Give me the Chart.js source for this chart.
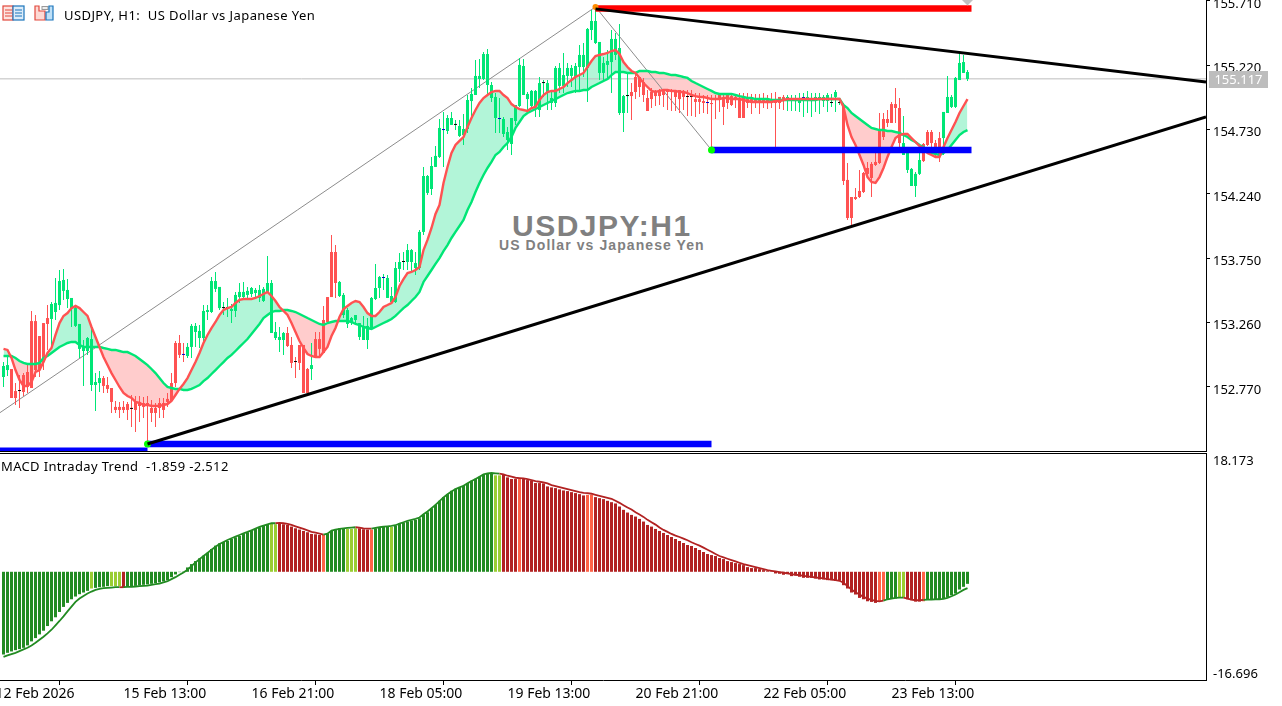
<!DOCTYPE html>
<html><head><meta charset="utf-8">
<script src="https://cdn.jsdelivr.net/npm/chart.js@4"></script>
<style>
html,body{margin:0;padding:0;background:#fff;width:1282px;height:706px;overflow:hidden;font-family:"Noto Sans",sans-serif}
.a{position:absolute;white-space:pre;color:#000}
canvas{position:absolute;left:0}
</style></head><body>
<div class="a" id="wm1" style="left:512px;top:209px;font:bold 30px 'Liberation Sans';letter-spacing:1.5px;color:#808080">USDJPY:H1</div>
<div class="a" id="wm2" style="left:499px;top:237px;font:bold 14px 'Liberation Sans';letter-spacing:1.08px;color:#808080">US Dollar vs Japanese Yen</div>
<canvas id="price" width="1282" height="451" style="top:0"></canvas>
<canvas id="macd" width="1282" height="252" style="top:454px"></canvas>
<div class="a" style="left:0;top:451px;width:1207px;height:1px;background:#000"></div>
<div class="a" style="left:0;top:453px;width:1207px;height:1px;background:#000"></div>
<svg class="a" style="left:2px;top:5px" width="56" height="16" viewBox="0 0 56 16">
<rect x="1" y="1" width="10" height="14" fill="#fde3df" stroke="#e2483d" stroke-width="1.2"/><rect x="11" y="1" width="11" height="14" fill="#dcecf9" stroke="#1b75bb" stroke-width="1.2"/>
<path d="M3 5h7M3 8h7M3 11h7" stroke="#e2483d"/><path d="M13 5h7M13 8h7M13 11h7" stroke="#1b75bb"/>
<path d="M33 1h4v5h6v9h-10z" fill="#fdd9d4" stroke="#e2483d" stroke-width="1.2"/><rect x="40" y="1.5" width="6" height="3" fill="#eee" stroke="#999"/><path d="M44 15V7h3V1h4v14z" fill="#bfe0f7" stroke="#1b75bb" stroke-width="1.2"/>
</svg>
<div class="a" id="title" style="left:64px;top:6px;font-size:13px;line-height:18px;letter-spacing:0.42px;font-family:'Noto Sans'">USDJPY, H1:  US Dollar vs Japanese Yen</div>
<div class="a" id="sub" style="left:1px;top:457px;font-size:13px;line-height:18px;letter-spacing:0.35px;font-family:'Noto Sans'">MACD Intraday Trend  -1.859 -2.512</div>
<div class="a" id="last" style="left:1209px;top:71px;width:59px;height:17px;background:#bdbdbd;color:#fff;font-size:13px;line-height:17px;text-align:center;font-family:'Noto Sans'">155.117</div>
<script>
const bodyTop=[152.930,152.937,152.907,152.739,152.739,152.861,152.884,153.272,153.272,153.158,153.257,153.295,153.402,153.410,153.577,153.585,153.509,153.448,153.371,153.250,153.075,153.143,153.135,152.808,152.838,152.838,152.785,152.762,152.618,152.618,152.618,152.640,152.603,152.656,152.656,152.648,152.648,152.610,152.610,152.648,152.648,152.679,152.800,153.105,153.105,153.014,153.075,153.235,153.235,153.197,153.349,153.356,153.577,153.577,153.532,153.371,153.371,153.364,153.471,153.494,
153.494,153.502,153.524,153.509,153.509,153.517,153.562,153.562,153.189,153.151,153.181,153.181,153.090,152.960,153.090,153.090,152.907,152.937,153.135,153.135,153.280,153.455,153.798,153.798,153.570,153.471,153.356,153.295,153.318,153.257,153.227,153.235,153.448,153.524,153.608,153.600,153.600,153.463,153.676,153.722,153.722,153.813,153.813,153.714,153.951,154.377,154.377,154.453,154.530,154.743,154.727,154.819,154.819,154.766,154.758,154.735,154.956,155.002,155.139,155.139,
155.306,155.306,155.070,154.979,154.811,154.811,154.712,154.819,154.918,155.223,155.215,155.002,155.025,155.025,155.085,155.085,155.085,154.971,155.200,155.200,155.146,155.200,155.200,155.215,155.299,155.299,155.497,155.558,155.558,155.398,155.238,155.253,155.421,155.421,155.352,154.986,154.986,155.017,155.131,155.131,155.093,154.971,155.017,155.025,155.032,155.032,155.032,155.032,155.017,155.032,155.025,154.979,154.979,154.963,154.963,154.948,154.933,154.933,154.956,154.994,
154.963,154.994,154.986,154.979,154.971,154.971,154.963,154.963,154.963,154.963,154.963,154.956,154.956,154.956,154.979,154.979,154.979,154.971,154.948,154.963,154.971,154.979,154.948,154.979,154.979,154.979,154.994,154.933,155.017,154.933,154.918,154.347,154.217,154.217,154.263,154.400,154.438,154.469,154.484,154.720,154.811,154.811,154.925,154.925,154.895,154.628,154.552,154.431,154.393,154.499,154.621,154.712,154.712,154.628,154.666,154.865,154.979,154.979,155.124,155.238,155.245,155.169];
const bodyBottom=[152.846,152.899,152.686,152.686,152.739,152.732,152.770,152.762,152.899,152.899,152.960,153.250,153.288,153.341,153.394,153.502,153.440,153.371,153.235,153.060,153.044,153.044,152.785,152.785,152.800,152.778,152.755,152.656,152.595,152.595,152.595,152.595,152.603,152.595,152.625,152.618,152.640,152.572,152.572,152.610,152.595,152.656,152.663,152.800,153.014,153.014,153.006,153.075,153.189,153.143,153.143,153.341,153.341,153.517,153.371,153.371,153.371,153.349,153.349,153.455,
153.455,153.471,153.478,153.486,153.448,153.425,153.494,153.181,153.143,153.128,153.128,153.082,152.953,152.960,152.953,152.724,152.724,152.907,152.991,153.060,153.029,153.265,153.455,153.562,153.463,153.318,153.250,153.257,153.280,153.151,153.128,153.128,153.219,153.440,153.524,153.600,153.448,153.417,153.417,153.669,153.722,153.722,153.722,153.676,153.676,153.951,154.248,154.278,154.446,154.522,154.727,154.720,154.766,154.766,154.682,154.689,154.735,154.948,154.994,155.116,
155.116,155.070,154.971,154.819,154.811,154.697,154.651,154.621,154.796,154.910,154.994,154.963,154.910,154.910,154.880,155.085,155.009,154.933,154.933,155.063,155.063,155.139,155.139,155.131,155.207,155.207,155.200,155.489,155.390,155.162,155.162,155.223,155.245,155.299,154.857,154.857,154.986,154.986,155.017,155.055,154.994,154.872,154.963,154.986,154.986,154.994,155.017,155.017,154.979,154.963,154.979,154.979,154.979,154.941,154.941,154.933,154.933,154.925,154.956,154.956,
154.903,154.933,154.918,154.971,154.819,154.819,154.933,154.933,154.933,154.933,154.933,154.933,154.933,154.933,154.933,154.956,154.956,154.956,154.948,154.933,154.971,154.956,154.948,154.948,154.956,154.948,154.948,154.933,154.979,154.933,154.339,154.057,154.057,154.202,154.217,154.255,154.393,154.362,154.461,154.476,154.674,154.781,154.781,154.895,154.628,154.537,154.423,154.301,154.301,154.393,154.491,154.613,154.628,154.537,154.537,154.666,154.857,154.903,154.903,155.108,155.162,155.116];
const wickHigh=[152.961,153.006,152.907,152.800,152.861,152.876,152.953,153.349,153.318,153.158,153.257,153.394,153.417,153.600,153.661,153.669,153.593,153.448,153.394,153.250,153.128,153.151,153.212,152.876,152.892,152.853,152.846,152.762,152.663,152.656,152.663,152.656,152.709,152.701,152.701,152.694,152.701,152.671,152.648,152.686,152.686,152.724,152.876,153.120,153.166,153.105,153.105,153.250,153.257,153.242,153.394,153.394,153.608,153.646,153.532,153.417,153.448,153.402,153.494,153.562,
153.570,153.532,153.532,153.524,153.547,153.532,153.768,153.585,153.265,153.227,153.189,153.227,153.151,152.998,153.090,153.090,152.915,153.105,153.189,153.189,153.387,153.455,153.928,153.851,153.577,153.486,153.371,153.303,153.318,153.257,153.311,153.295,153.455,153.707,153.615,153.631,153.623,153.532,153.722,153.791,153.798,153.859,153.821,153.798,153.966,154.446,154.385,154.522,154.606,154.811,154.865,154.842,154.865,154.804,154.804,154.850,154.994,155.048,155.261,155.269,
155.322,155.345,155.093,155.009,154.971,154.827,154.750,154.819,154.918,155.276,155.269,155.017,155.032,155.032,155.131,155.108,155.108,155.017,155.215,155.238,155.314,155.238,155.223,155.238,155.375,155.390,155.505,155.641,155.665,155.398,155.284,155.337,155.489,155.467,155.535,154.994,155.162,155.085,155.169,155.131,155.124,155.032,155.048,155.032,155.040,155.040,155.040,155.040,155.032,155.032,155.032,155.032,155.032,155.009,155.009,154.994,154.994,154.994,154.994,155.009,
154.994,155.009,155.009,154.994,155.009,155.009,155.009,155.002,155.002,155.002,155.009,154.994,155.009,155.017,154.979,154.994,154.994,154.994,154.994,155.009,155.009,155.025,155.009,155.009,155.009,154.994,155.009,155.002,155.032,154.971,154.933,154.476,154.217,154.286,154.423,154.408,154.484,154.484,154.598,154.857,154.857,154.880,154.941,155.048,154.971,154.834,154.552,154.438,154.408,154.552,154.628,154.727,154.727,154.651,154.712,154.865,155.139,154.994,155.131,155.314,155.299,155.184];
const wickLow=[152.770,152.853,152.686,152.633,152.610,152.701,152.724,152.762,152.846,152.846,152.899,153.052,153.075,153.280,153.356,153.433,153.371,153.227,153.227,152.991,152.778,153.014,152.739,152.587,152.732,152.724,152.724,152.572,152.572,152.534,152.572,152.518,152.465,152.427,152.503,152.534,152.343,152.503,152.465,152.534,152.534,152.618,152.656,152.770,152.991,152.960,152.991,152.991,153.075,153.067,153.105,153.280,153.333,153.494,153.356,153.318,153.303,153.257,153.303,153.410,
153.433,153.433,153.455,153.455,153.417,153.417,153.486,153.181,153.128,153.036,153.014,153.075,152.915,152.838,152.899,152.724,152.724,152.823,152.991,152.991,153.029,153.265,153.455,153.448,153.455,153.295,153.219,153.242,153.242,153.128,153.128,153.060,153.212,153.433,153.448,153.509,153.448,153.410,153.410,153.570,153.661,153.661,153.646,153.623,153.661,153.928,154.233,154.233,154.446,154.515,154.446,154.697,154.766,154.727,154.674,154.613,154.705,154.804,154.994,155.048,
155.108,154.994,154.941,154.705,154.705,154.674,154.575,154.537,154.766,154.903,154.994,154.880,154.895,154.827,154.827,154.979,154.880,154.880,154.903,155.009,155.009,155.055,155.055,155.009,155.017,155.131,154.941,155.413,155.383,155.108,155.108,155.108,155.009,155.261,154.842,154.712,154.857,154.804,154.963,154.979,154.941,154.872,154.895,154.910,154.918,154.903,154.880,154.872,154.872,154.857,154.880,154.834,154.834,154.827,154.850,154.857,154.850,154.598,154.811,154.865,
154.766,154.887,154.910,154.895,154.819,154.819,154.895,154.850,154.895,154.850,154.895,154.887,154.895,154.598,154.887,154.880,154.872,154.872,154.872,154.865,154.827,154.857,154.827,154.865,154.850,154.903,154.865,154.903,154.865,154.918,154.309,154.042,154.004,154.194,154.210,154.248,154.385,154.217,154.453,154.469,154.651,154.750,154.781,154.781,154.598,154.537,154.400,154.301,154.217,154.385,154.484,154.605,154.575,154.515,154.484,154.537,154.857,154.895,154.895,155.108,155.162,155.101];
const candleRuns=[['G',2],['R',2],['D',1],['R',7],['G',13],['R',7],['D',1],['R',12],['B',1],['G',9],['D',2],['G',14],['R',2],['D',1],['R',3],['G',1],['R',6],['G',11],['B',1],['G',4],['D',1],['G',9],['B',1],['G',2],['D',1],['G',10],['B',1],['G',10],['D',1],['G',20],['D',1],['R',14],['D',2],['R',3],['B',1],['R',1],['D',1],['R',17],['G',2],['D',1],['G',1],['B',1],['G',1],['D',1],['G',4],['D',1],['G',1],['D',1],['R',15],['G',5],['R',5],['G',7]];
const fastMA=[153.060,153.052,152.991,152.899,152.823,152.778,152.778,152.808,152.884,152.899,152.960,153.029,153.067,153.166,153.257,153.311,153.333,153.371,153.387,153.371,153.341,153.311,153.227,153.151,153.075,152.998,152.937,152.876,152.823,152.770,152.724,152.701,152.686,152.656,152.648,152.633,152.633,152.625,152.625,152.625,152.633,152.640,152.663,152.709,152.755,152.793,152.838,152.899,152.960,153.029,153.105,153.166,153.219,153.265,153.318,153.356,153.371,153.379,153.410,153.433,
153.440,153.440,153.440,153.448,153.463,153.478,153.494,153.463,153.425,153.379,153.349,153.318,153.257,153.189,153.120,153.067,153.021,153.006,152.998,152.998,153.036,153.075,153.158,153.219,153.303,153.364,153.387,153.410,153.425,153.417,153.379,153.333,153.311,153.311,153.341,153.379,153.394,153.410,153.455,153.539,153.592,153.638,153.646,153.661,153.684,153.813,153.890,153.981,154.088,154.156,154.324,154.446,154.552,154.613,154.644,154.674,154.750,154.819,154.880,154.933,
154.971,154.994,155.017,155.025,155.025,154.994,154.971,154.925,154.903,154.887,154.880,154.872,154.895,154.903,154.956,154.994,155.017,155.025,155.025,155.040,155.055,155.085,155.108,155.131,155.146,155.162,155.207,155.253,155.291,155.299,155.306,155.314,155.329,155.337,155.306,155.245,155.207,155.177,155.162,155.124,155.085,155.055,155.025,155.017,155.025,155.032,155.032,155.025,155.025,155.017,155.017,155.009,154.994,154.986,154.979,154.979,154.971,154.963,154.963,154.963,
154.971,154.971,154.963,154.963,154.963,154.956,154.948,154.941,154.941,154.941,154.941,154.941,154.941,154.948,154.948,154.956,154.963,154.963,154.963,154.963,154.963,154.963,154.963,154.963,154.963,154.963,154.963,154.963,154.963,154.963,154.903,154.766,154.674,154.613,154.537,154.461,154.369,154.331,154.324,154.369,154.438,154.522,154.598,154.666,154.689,154.697,154.697,154.666,154.636,154.605,154.590,154.552,154.537,154.522,154.522,154.598,154.666,154.727,154.788,154.857,154.910,154.963];
const slowMA=[153.006,153.006,153.006,152.991,152.968,152.953,152.945,152.945,152.945,152.953,152.991,153.006,153.029,153.052,153.075,153.090,153.105,153.113,153.113,153.090,153.075,153.075,153.075,153.075,153.075,153.067,153.060,153.052,153.052,153.044,153.036,153.036,153.021,153.006,152.983,152.960,152.937,152.907,152.876,152.838,152.800,152.770,152.762,152.755,152.755,152.747,152.747,152.755,152.770,152.785,152.815,152.838,152.869,152.899,152.930,152.960,152.991,153.014,153.044,153.075,
153.105,153.135,153.173,153.212,153.250,153.295,153.318,153.341,153.349,153.349,153.356,153.356,153.349,153.341,153.326,153.311,153.295,153.280,153.265,153.250,153.242,153.257,153.265,153.272,153.272,153.272,153.272,153.265,153.250,153.242,153.227,153.219,153.212,153.227,153.242,153.257,153.272,153.288,153.311,153.341,153.371,153.394,153.425,153.455,153.494,153.570,153.615,153.661,153.707,153.752,153.805,153.851,153.905,153.951,153.996,154.042,154.118,154.179,154.255,154.324,
154.385,154.438,154.484,154.537,154.560,154.598,154.628,154.674,154.743,154.788,154.834,154.857,154.872,154.887,154.903,154.918,154.933,154.948,154.963,154.979,154.994,155.009,155.017,155.025,155.025,155.032,155.032,155.055,155.070,155.085,155.101,155.116,155.146,155.169,155.169,155.169,155.162,155.162,155.162,155.177,155.177,155.177,155.169,155.169,155.162,155.162,155.154,155.146,155.146,155.139,155.131,155.124,155.101,155.085,155.070,155.055,155.040,155.025,155.009,155.002,
155.002,155.002,155.002,154.994,154.986,154.979,154.971,154.971,154.963,154.963,154.963,154.963,154.956,154.956,154.956,154.956,154.956,154.956,154.956,154.956,154.956,154.956,154.956,154.956,154.963,154.963,154.963,154.963,154.963,154.963,154.918,154.895,154.857,154.834,154.811,154.788,154.766,154.743,154.735,154.727,154.727,154.720,154.720,154.712,154.705,154.689,154.674,154.651,154.636,154.613,154.598,154.568,154.552,154.545,154.537,154.552,154.575,154.613,154.651,154.689,154.712,154.727];
const macdHist=[-12.76,-12.5,-12.29,-12.09,-11.93,-11.73,-11.36,-10.74,-10.23,-9.66,-9.09,-8.37,-7.64,-7.02,-6.2,-5.42,-4.8,-4.24,-3.82,-3.46,-3.2,-2.94,-2.58,-2.48,-2.38,-2.32,-2.22,-2.22,-2.22,-2.22,-2.48,-2.27,-2.22,-2.17,-2.12,-2.01,-1.96,-1.86,-1.76,-1.65,-1.5,-1.29,-.83,-.41,-.05,.05,.67,1.19,1.65,2.07,2.48,2.94,3.51,4.03,4.39,4.6,4.75,5.06,5.32,5.53,
5.84,6.1,6.4,6.61,6.87,7.13,7.28,7.49,7.33,7.49,7.33,7.23,6.97,6.71,6.51,6.3,6.1,5.84,5.79,5.68,5.68,5.84,6.3,6.61,6.71,6.71,6.61,6.61,6.71,6.71,6.56,6.51,6.51,6.71,6.87,6.97,6.97,6.92,7.13,7.44,7.59,7.75,7.9,8.01,8.26,8.88,9.19,9.81,10.33,10.95,11.52,11.98,12.5,12.81,13.07,13.27,13.69,14.05,14.36,14.67,
15.08,15.24,15.24,14.88,14.88,14.98,14.57,14.31,14.31,14.31,14.31,14.15,14.05,13.69,13.69,13.64,13.17,13.02,12.91,12.71,12.55,12.45,12.29,12.14,11.98,11.78,11.88,11.88,11.52,11.36,11.21,10.95,10.74,10.54,10.07,9.56,9.14,8.78,8.52,8.16,7.75,7.23,6.97,6.61,6.3,5.99,5.68,5.37,5.06,4.75,4.44,4.13,3.98,3.67,3.36,3.05,2.74,2.58,2.43,2.12,
1.96,1.65,1.5,1.34,1.19,1.03,.72,.57,.57,.41,.26,.1,.05,-.26,-.31,-.46,-.36,-.67,-.57,-.77,-.93,-.93,-.93,-1.03,-1.19,-1.19,-1.29,-1.29,-1.39,-1.39,-2.07,-2.58,-3.2,-3.51,-4.03,-4.24,-4.55,-4.65,-4.8,-4.55,-4.39,-4.29,-4.18,-4.13,-4.03,-3.98,-4.24,-4.39,-4.6,-4.6,-4.55,-4.29,-4.29,-4.29,-4.29,-4.18,-3.98,-3.62,-3.36,-2.74,-2.32,-1.859];
const macdSignal=[-13.12,-12.91,-12.71,-12.5,-12.24,-11.98,-11.73,-11.36,-10.95,-10.49,-10.02,-9.5,-8.94,-8.26,-7.59,-6.87,-6.1,-5.37,-4.65,-4.13,-3.72,-3.36,-3.05,-2.79,-2.63,-2.53,-2.48,-2.43,-2.38,-2.38,-2.38,-2.32,-2.32,-2.27,-2.22,-2.17,-2.12,-2.01,-1.91,-1.81,-1.65,-1.45,-1.14,-.83,-.46,-.1,.31,.88,1.45,1.96,2.43,2.89,3.41,3.87,4.29,4.6,4.91,5.17,5.42,5.68,
5.94,6.15,6.4,6.66,6.92,7.13,7.33,7.49,7.49,7.54,7.49,7.39,7.23,7.02,6.82,6.61,6.4,6.15,6.04,5.89,5.73,5.89,6.35,6.51,6.61,6.71,6.77,6.82,6.87,6.82,6.71,6.66,6.66,6.77,6.87,6.97,7.02,7.08,7.18,7.44,7.64,7.85,8.01,8.16,8.37,8.88,9.3,9.81,10.33,10.9,11.47,11.98,12.4,12.76,13.02,13.27,13.64,14,14.31,14.67,
15.03,15.19,15.24,15.19,15.13,15.03,14.82,14.67,14.51,14.46,14.41,14.31,14.15,14,13.89,13.79,13.64,13.38,13.22,13.07,12.91,12.76,12.6,12.45,12.29,12.19,12.14,12.04,11.88,11.73,11.57,11.42,11.26,10.95,10.64,10.28,9.92,9.61,9.19,8.83,8.47,8.01,7.64,7.28,6.82,6.46,6.15,5.84,5.58,5.37,5.11,4.86,4.55,4.29,4.03,3.72,3.41,3.1,2.74,2.43,
2.22,2.01,1.81,1.6,1.39,1.19,1.03,.88,.72,.57,.41,.26,.15,.05,-.05,-.15,-.26,-.36,-.46,-.52,-.62,-.72,-.77,-.88,-.93,-1.03,-1.14,-1.19,-1.29,-1.39,-1.7,-2.22,-2.74,-3.15,-3.51,-3.87,-4.13,-4.34,-4.49,-4.55,-4.44,-4.24,-4.13,-4.03,-3.98,-3.98,-4.13,-4.29,-4.39,-4.39,-4.34,-4.29,-4.29,-4.24,-4.24,-4.18,-4.03,-3.77,-3.51,-3.15,-2.79,-2.512];
const macdRuns=[['g',22],['l',1],['g',4],['l',3],['r',1],['g',36],['l',2],['r',11],['o',1],['g',5],['l',3],['r',3],['o',1],['g',4],['l',1],['g',25],['l',2],['r',4],['o',1],['r',16],['o',2],['r',71],['o',2],['g',3],['l',2],['r',4],['o',1],['g',11]];
const priceTicks=[155.71,155.22,154.73,154.24,153.75,153.26,152.77];
const macdTickPlaces=[17.093,-15.77];
const macdTickTexts=['18.173','-16.696'];
const tickBars=[-2,30,62,94,126,158,190,222];
const tickTexts=['12 Feb 2026','15 Feb 13:00','16 Feb 21:00','18 Feb 05:00','19 Feb 13:00','20 Feb 21:00','22 Feb 05:00','23 Feb 13:00'];
const lastPrice=155.117;
const zigzagBars=[-1,148,177], zigzagPrices=[152.572,155.665,154.575];
const resistanceBars=[148,300.625], resistancePrices=[155.650,155.093];
const supportBars=[36,300.625], supportPrices=[152.336,154.827];
const redLevel=[148,242,155.653], blueHigh=[177,242,154.575], blueLow=[36,177,152.336], blueOld=[-1,36,152.294];

const expand=r=>r.flatMap(([k,n])=>Array(n).fill(k));
const dirs=expand(candleRuns), mc=expand(macdRuns);
const lens=[bodyTop,bodyBottom,wickHigh,wickLow,fastMA,slowMA,macdHist,macdSignal,dirs,mc].map(a=>a.length);
if(lens.some(n=>n!==242)) throw new Error('lengths '+lens.join(','));
const UP='#00E676',DN='#FF5252';
const wickDir=[];dirs.forEach((d,i)=>{wickDir[i]=(d==='G'||d==='R')?d:(i?wickDir[i-1]:'R')});
const pts=(xs,ys)=>xs.map((x,i)=>({x,y:ys[i]}));
const idx=bodyTop.map((_,i)=>i);
const XMIN=-0.875,XMAX=300.625;
const FONT={family:"'Noto Sans'",size:13};
const xBase={type:'linear',min:XMIN,max:XMAX,offset:false,grid:{display:false}};
const yFit=s=>{s.width=76;s.paddingTop=0;s.paddingBottom=0};
const base={responsive:false,animation:false,devicePixelRatio:1,layout:{padding:0,autoPadding:false},plugins:{legend:{display:false},tooltip:{enabled:false}}};
const lineDs=(data,color,w,order,extra)=>Object.assign({type:'line',data,borderColor:color,borderWidth:w,pointRadius:0,fill:false,order,tension:0,borderCapStyle:'butt'},extra||{});
const dotDs=(x,y,c,r,order,style)=>({type:'line',data:[{x,y}],showLine:false,pointRadius:r,pointBackgroundColor:c,pointBorderWidth:0,pointStyle:style||'circle',order,clip:false});
new Chart(document.getElementById('price'),{type:'bar',data:{datasets:[
 lineDs(pts(idx,fastMA),'transparent',0,40,{fill:{target:1,above:'#B2F5D8',below:'#FFCCCC'}}),
 lineDs(pts(idx,slowMA),'transparent',0,41),
 lineDs([{x:-1,y:lastPrice},{x:301,y:lastPrice}],'#BDBDBD',1,35),
 lineDs(pts(zigzagBars,zigzagPrices),'#8C8C8C',1,34),
 {type:'bar',data:idx.map(i=>({x:i,y:[wickLow[i],wickHigh[i]]})),grouped:false,categoryPercentage:1,barPercentage:0.25,backgroundColor:idx.map(i=>wickDir[i]==='G'?UP:DN),order:30,minBarLength:1},
 {type:'bar',data:idx.map(i=>({x:i,y:[bodyBottom[i],bodyTop[i]]})),grouped:false,categoryPercentage:1,barPercentage:0.75,backgroundColor:dirs.map(d=>d==='G'?UP:d==='R'?DN:d==='B'?'#0000CC':'#000000'),order:29,minBarLength:1},
 lineDs(pts(idx,slowMA),UP,2.4,20),
 lineDs(pts(idx,fastMA),DN,2.4,19),
 lineDs([{x:redLevel[0],y:redLevel[2]},{x:redLevel[1],y:redLevel[2]}],'#FF0000',6.5,10),
 lineDs([{x:blueHigh[0],y:blueHigh[2]},{x:blueHigh[1],y:blueHigh[2]}],'#0000FF',6.5,10),
 lineDs([{x:blueLow[0],y:blueLow[2]},{x:blueLow[1],y:blueLow[2]}],'#0000FF',6.5,10),
 lineDs([{x:blueOld[0],y:blueOld[2]},{x:blueOld[1],y:blueOld[2]}],'#0000FF',4,10),
 dotDs(177,blueHigh[2],'#00FF00',3.5,8),dotDs(36,blueLow[2],'#00FF00',3.5,8),dotDs(148,155.665,'#FF8C00',3,8),
 lineDs(pts(resistanceBars,resistancePrices),'#000000',3,5),
 lineDs(pts(supportBars,supportPrices),'#000000',3,5),
 dotDs(241,155.7176,'#C0C0C0',5.5,4,'rectRot')
]},options:Object.assign({},base,{scales:{
 x:Object.assign({},xBase,{display:false}),
 y:{type:'linear',position:'right',min:155.7176-451*0.007617,max:155.7176,
    afterBuildTicks:s=>{s.ticks=priceTicks.map(v=>({value:v}))},afterFit:yFit,
    grid:{drawOnChartArea:false,tickLength:4,color:'#000'},border:{color:'#000'},
    ticks:{color:'#000',font:FONT,padding:3,crossAlign:'near',labelOffset:3,callback:v=>v.toFixed(3)}}
}})});
new Chart(document.getElementById('macd'),{type:'bar',data:{datasets:[
 {type:'bar',data:idx.map(i=>({x:i,y:macdHist[i]})),grouped:false,categoryPercentage:1,barPercentage:0.75,backgroundColor:mc.map(c=>({g:'#228B22',l:'#9ACD32',r:'#B22222',o:'#FF6347'})[c]),order:5},
 lineDs(pts(idx,macdSignal),'#228B22',1.8,1,{segment:{borderColor:c=>{const m=mc[c.p1DataIndex];return (m==='g'||m==='l')?'#228B22':'#B22222'}}})
]},options:Object.assign({},base,{scales:{
 x:Object.assign({},xBase,{position:'bottom',
    afterBuildTicks:s=>{s.ticks=tickBars.map(v=>({value:v}))},
    afterFit:s=>{s.height=252-226;s.paddingLeft=0;s.paddingRight=0},
    grid:{display:true,drawOnChartArea:false,tickLength:5,color:'#000'},border:{color:'#000'},
    ticks:{color:'#000',font:{family:"'Noto Sans'",size:14},align:'start',autoSkip:false,maxRotation:0,padding:1,
      callback:v=>tickTexts[tickBars.indexOf(v)]}}),
 y:{type:'linear',position:'right',min:-16.696,max:18.173,
    afterBuildTicks:s=>{s.ticks=macdTickPlaces.map(v=>({value:v}))},afterFit:yFit,
    grid:{drawOnChartArea:false,drawTicks:false,tickLength:4,color:'#000'},border:{color:'#000'},
    ticks:{color:'#000',font:FONT,padding:7,crossAlign:'near',callback:v=>macdTickTexts[macdTickPlaces.indexOf(v)]}}
}})});
</script>
</body></html>
